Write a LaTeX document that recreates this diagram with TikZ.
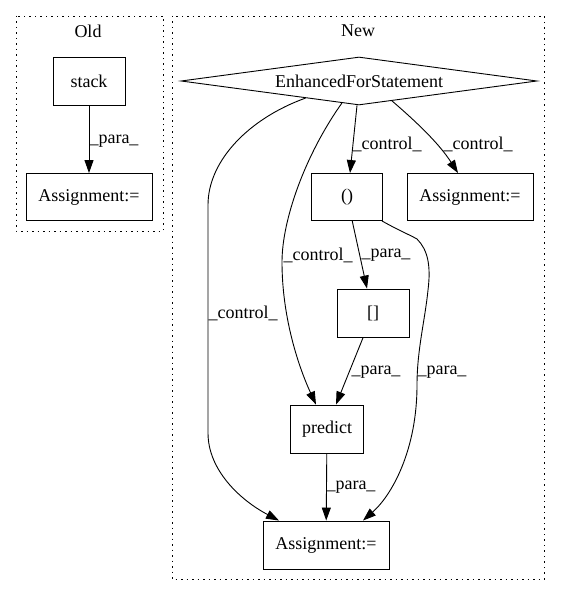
\documentclass[tikz,border=0pt]{standalone}
\usepackage{fontspec}
\setmainfont{Liberation Serif}
\usetikzlibrary{shapes.geometric,arrows.meta,calc}
\begin{document}
\begin{tikzpicture}[x=1pt,y=-1pt,
  every node/.style={font=\fontsize{18}{20}\selectfont},
  box/.style={draw,line width=0.9pt,rectangle,inner sep=0pt},
  cluster/.style={draw,line width=0.9pt,dash pattern=on 1.5pt off 4pt},
  edge/.style={line width=0.9pt,-{Triangle[length=13pt,width=9pt]}},
  lbl/.style={inner sep=0pt}]
\useasboundingbox (0,0) rectangle (560,596);
% clusters
\draw[cluster] (16,16) rectangle (163,231);
\node[lbl] (oldt) at (88,31) {Old};
\draw[cluster] (172,16) rectangle (544,579);
\node[lbl] (newt) at (358,31) {New};
% Old
\node[box,minimum width=72pt,minimum height=48pt] (stack) at (89,81) {stack};
\node[box,minimum width=126pt,minimum height=47pt] (asgO) at (89,197) {Assignment:=};
\draw[edge] (stack) -- (asgO);
\node[lbl] at (114,141) {\_para\_};
% New
\node[draw,line width=0.9pt,diamond,aspect=7.4,inner sep=0pt,minimum width=356pt,minimum height=48pt] (efs) at (359,81) {EnhancedForStatement};
\node[box,minimum width=71pt,minimum height=47pt] (tup) at (347,197) {()};
\node[box,minimum width=126pt,minimum height=47pt] (asgR) at (470,197) {Assignment:=};
\node[box,minimum width=72pt,minimum height=48pt] (idx) at (373,313) {[]};
\node[box,minimum width=73pt,minimum height=48pt] (pred) at (327,429) {predict};
\node[box,minimum width=126pt,minimum height=48pt] (asgB) at (326,545) {Assignment:=};
% edges
\draw[edge] (efs.south) ++(-2,0) -- (tup.north -| 350,0);
\draw[edge] ($(efs.south)!0.185!(efs.east)$) .. controls (420,125) and (440,145) .. (asgR.north -| 458,0);
\draw[edge] ($(efs.west)!0.70!(efs.south)$) .. controls (250,118) and (208,160) .. (208,205) -- (208,433) .. controls (208,470) and (240,500) .. (asgB.north -| 279,0);
\draw[edge] ($(efs.west)!0.904!(efs.south)$) .. controls (305,155) and (282,220) .. (282,262) .. controls (282,320) and (300,370) .. (pred.north -| 316,0);
\draw[edge] (tup) -- (idx.north -| 367,0);
\draw[edge] (tup.south east) ++(-1,0) .. controls (398,230) and (410,235) .. (417,239) .. controls (428,250) and (431,266) .. (428,290) .. controls (425,320) and (417,350) .. (417,385) .. controls (417,450) and (392,495) .. (asgB.north -| 363,0);
\draw[edge] (idx) -- (pred.north -| 336,0);
\draw[edge] (pred) -- (asgB);
% labels
\node[lbl] at (387,144) {\_control\_};
\node[lbl] at (478,144) {\_control\_};
\node[lbl] at (243,313) {\_control\_};
\node[lbl] at (318,255) {\_control\_};
\node[lbl] at (386,255) {\_para\_};
\node[lbl] at (376,372) {\_para\_};
\node[lbl] at (442,372) {\_para\_};
\node[lbl] at (351,487) {\_para\_};
\end{tikzpicture}
\end{document}
